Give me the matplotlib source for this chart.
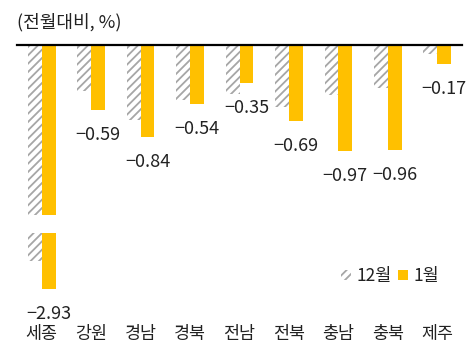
import matplotlib
matplotlib.use("Agg")
import matplotlib.pyplot as plt
import numpy as np

plt.rcParams['font.family'] = ['Noto Sans CJK KR', 'DejaVu Sans']
plt.rcParams['hatch.color'] = '#A6A6A6'
plt.rcParams['hatch.linewidth'] = 1.3

categories = ['세종', '강원', '경남', '경북', '전남', '전북', '충남', '충북', '제주']
dec_values = [-2.67, -0.42, -0.68, -0.50, -0.45, -0.57, -0.46, -0.39, -0.08]
jan_values = [-2.93, -0.59, -0.84, -0.54, -0.35, -0.69, -0.97, -0.96, -0.17]

yellow = '#FFC000'
text_color = '#222222'
width = 0.28
x = np.arange(len(categories))

fig = plt.figure(figsize=(4.66, 3.55), dpi=100)
ax_top = fig.add_axes([0.0365, 0.3944, 0.955, 0.4789])
ax_bot = fig.add_axes([0.0365, 0.1859, 0.955, 0.1578])

for ax in (ax_top, ax_bot):
    ax.bar(x - width / 2, dec_values, width, color='white', edgecolor='#A6A6A6',
           linewidth=0, hatch='////', label='12월')
    ax.bar(x + width / 2, jan_values, width, color=yellow, linewidth=0, label='1월')
    ax.set_xlim(-0.5, len(categories) - 0.5)
    for s in ax.spines.values():
        s.set_visible(False)
    ax.set_yticks([])

ax_top.set_ylim(-1.55, 0)
ax_bot.set_ylim(-2.93, -2.419)
ax_top.set_xticks([])
ax_top.axhline(0, color='black', lw=1.6, clip_on=False, zorder=5)

ax_bot.set_xticks(x, categories)
ax_bot.tick_params(axis='x', length=0, pad=26, labelsize=12.5, labelcolor=text_color)

# value labels for January
for xi, v in zip(x, jan_values):
    ax = ax_top if v > -1.55 else ax_bot
    ax.annotate(f'\u2212{abs(v):.2f}', (xi + width / 2, v), xytext=(0, -18),
                textcoords='offset points', ha='center', va='center',
                fontsize=13, color=text_color, annotation_clip=False)

fig.text(0.037, 0.938, '(전월대비, %)', fontsize=13, color=text_color,
         ha='left', va='center')

handles, labels = ax_top.get_legend_handles_labels()
fig.legend(handles, labels, loc='center right', bbox_to_anchor=(0.975, 0.2225),
           ncol=2, frameon=False, fontsize=12.5, handlelength=0.55, handleheight=0.55,
           handletextpad=0.3, columnspacing=0.4, labelcolor=text_color)

fig.savefig('out.png', dpi=100)
